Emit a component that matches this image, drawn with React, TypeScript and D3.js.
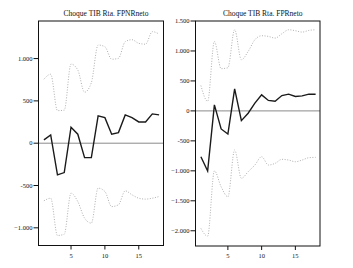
import React from "react";
import * as d3 from "d3";

const periods = d3.range(1, 19);

const leftTitle = "Choque TIB Rta. FPNRneto";
const leftMain = [39, 98, -374, -347, 189, 106, -170, -170, 322, 302, 106, 125, 334, 302, 251, 251, 346, 334];
const leftUpper = [756, 815, 385, 390, 935, 865, 602, 715, 1160, 1140, 992, 1003, 1200, 1223, 1180, 1170, 1318, 1290];
const leftLower = [-681, -650, -1091, -1075, -591, -690, -886, -945, -531, -571, -749, -728, -563, -610, -650, -661, -650, -630];
const leftTicks = [-1000, -500, 0, 500, 1000];
const leftDomain = [-1209, 1444];

const rightTitle = "Choque TIB Rta. FPRneto";
const rightMain = [-764, -1003, 100, -301, -385, 368, -162, -39, 129, 268, 175, 160, 256, 279, 240, 251, 279, 279];
const rightUpper = [423, 160, 1159, 705, 720, 1355, 853, 992, 1187, 1254, 1243, 1215, 1287, 1354, 1338, 1315, 1343, 1354];
const rightLower = [-1961, -2090, -1000, -1266, -1433, -652, -1125, -1015, -903, -764, -903, -875, -808, -820, -848, -820, -781, -775];
const rightTicks = [-2000, -1500, -1000, -500, 0, 500, 1000, 1500];
const rightDomain = [-2254, 1500];

const xTicks = [5, 10, 15];
const xDomain = [0.2, 18.65];

const fmt = (v: number) => {
  const s = Math.abs(v) >= 1000 ? d3.format(",")(v).replace(/,/g, ".") : String(v);
  return s;
};

const FONT = "'Liberation Serif', 'DejaVu Serif', serif";

function Panel({ x0, x1, y0, y1, title, main, upper, lower, ticks, domain }: any) {
  const xs = d3.scaleLinear().domain(xDomain).range([x0, x1]);
  const ys = d3.scaleLinear().domain(domain).range([y1, y0]);
  const line = d3.line<number>().x((_, i) => xs(periods[i])).y((d) => ys(d));
  const smooth = d3.line<number>().x((_, i) => xs(periods[i])).y((d) => ys(d)).curve(d3.curveMonotoneX);
  return (
    <g>
      <text x={(x0 + x1) / 2 + 5} y={16} textAnchor="middle" fontFamily={FONT} fontSize={7.5} fill="#111">
        {title}
      </text>
      <line x1={x0} x2={x1} y1={ys(0)} y2={ys(0)} stroke="#8a8a8a" strokeWidth={1} />
      <path d={smooth(upper) || ""} fill="none" stroke="#b0b0b0" strokeWidth={1} strokeDasharray="1,1.6" />
      <path d={smooth(lower) || ""} fill="none" stroke="#b0b0b0" strokeWidth={1} strokeDasharray="1,1.6" />
      <path d={line(main) || ""} fill="none" stroke="#1a1a1a" strokeWidth={1.4} strokeLinejoin="miter" />
      <rect x={x0} y={y0} width={x1 - x0} height={y1 - y0} fill="none" stroke="#111" strokeWidth={1} />
      {ticks.map((t: number) => (
        <g key={t}>
          <line x1={x0 - 5} x2={x0} y1={ys(t)} y2={ys(t)} stroke="#111" strokeWidth={1} />
          <text x={x0 - 6} y={ys(t) + 2.2} textAnchor="end" fontFamily={FONT} fontSize={6.5} fill="#111">
            {fmt(t)}
          </text>
        </g>
      ))}
      {xTicks.map((t) => (
        <g key={t}>
          <line x1={xs(t)} x2={xs(t)} y1={y1} y2={y1 + 4} stroke="#111" strokeWidth={1} />
          <text x={xs(t)} y={y1 + 12} textAnchor="middle" fontFamily={FONT} fontSize={6.5} fill="#111">
            {t}
          </text>
        </g>
      ))}
    </g>
  );
}

export default function App() {
  return (
    <svg width={353} height={268} style={{ position: "absolute", left: 0, top: 0, background: "#fff" }}>
      <rect width={353} height={268} fill="#fff" />
      <Panel x0={38.5} x1={163.5} y0={21} y1={245.5} title={leftTitle} main={leftMain} upper={leftUpper} lower={leftLower} ticks={leftTicks} domain={leftDomain} />
      <Panel x0={195.5} x1={320} y0={21} y1={246} title={rightTitle} main={rightMain} upper={rightUpper} lower={rightLower} ticks={rightTicks} domain={rightDomain} />
    </svg>
  );
}
